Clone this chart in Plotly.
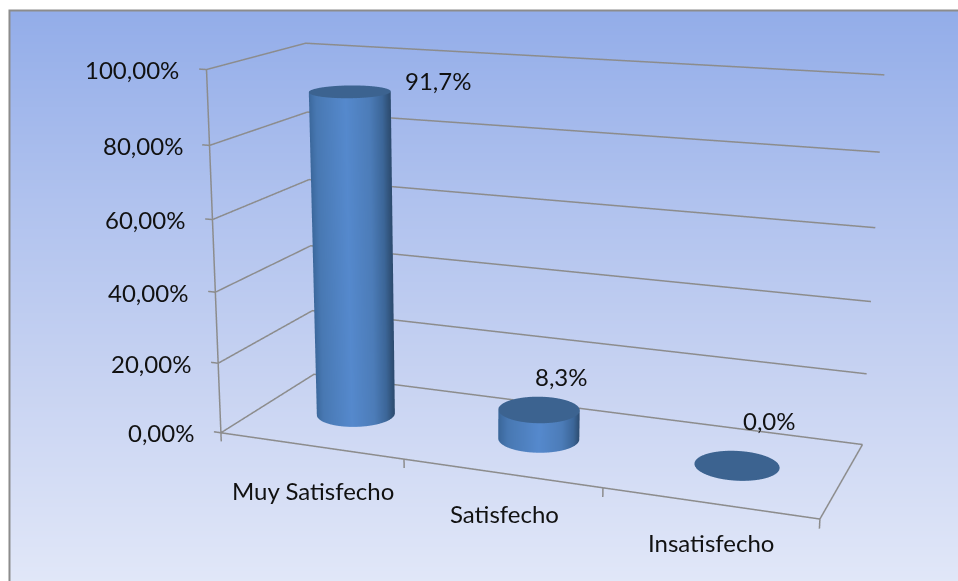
import numpy as np
import plotly.graph_objects as go

categories = ["Muy Satisfecho", "Satisfecho", "Insatisfecho"]
values = [91.7, 8.3, 0.0]
value_labels = ["91,7%", "8,3%", "0,0%"]
z_ticks = [0, 20, 40, 60, 80, 100]
z_tick_labels = ["0,00%", "20,00%", "40,00%", "60,00%", "80,00%", "100,00%"]

W, H = 958, 581
k = 2.5803      # figure enlarged and centred on the window: narrows Plotly's fixed 45 degree view to the reference's weak perspective
FW, FH = k*W, k*H
ox, oy = (FW-W)/2, (FH-H)/2
XR, YR, ZR = (-0.06, 3.02), (-0.02, 1.02), (-3.0, 102.0)
EYE = dict(x=1.54356, y=-4.2409, z=1.15309)
CENTER = dict(x=-0.12784, y=-0.0784, z=-0.06951)
UP = dict(x=0.0068, y=0.0005, z=1)
ASPECT = dict(x=1.64569, y=0.56763, z=1.019417)
RX, RY = 0.2, 0.196
GREY = "#8c8c8c"
TEXT = dict(family="Lato", size=24, color="#111111")
CAP = "#3c6390"

fig = go.Figure()

fig.add_trace(go.Heatmap(z=[[0,0],[1,1],[2,2],[3,3]], x=[0,1], y=[0,1,2,3], zsmooth="best", showscale=False, hoverinfo="skip",
    zmin=0, zmax=3, colorscale=[[0,"#93ade9"],[1/3,"#b0c2ee"],[2/3,"#c9d4f2"],[1,"#e1e7f8"]]))

def ln(xs, ys, zs):
    fig.add_trace(go.Scatter3d(x=xs, y=ys, z=zs, mode="lines", line=dict(color=GREY, width=3), hoverinfo="skip", showlegend=False))

for z in z_ticks:
    ln([-0.04,0,0,3],[0,0,1,1],[z,z,z,z])
ln([0,0],[0,0],[0,100])
ln([0,3,3],[0,0,1],[0,0,0])
for i in range(len(categories)+1):
    ln([i,i],[0,0],[0,-2.5])

LIGHT = dict(ambient=1, diffuse=0, specular=0, roughness=1, fresnel=0)
SIDE = [[0,"#3a6699"],[0.12,"#4878b2"],[0.5,"#5589cd"],[0.78,"#4c7cb8"],[0.92,"#3c6698"],[1,"#2d4c70"]]
theta = np.linspace(0, 2*np.pi, 121)
phi = np.arctan2(EYE["y"], EYE["x"]) + np.pi/2
for i, v in enumerate(values):
    cx, cy = i+0.5, 0.5
    X = cx + RX*np.cos(theta); Y = cy + RY*np.sin(theta)
    t = 0.5 + 0.5*np.cos(theta-phi)
    if v > 0:
        fig.add_trace(go.Surface(x=np.vstack([X,X]), y=np.vstack([Y,Y]), z=np.vstack([0*X, 0*X+v]),
            surfacecolor=np.vstack([t,t]), cmin=0, cmax=1, colorscale=SIDE, showscale=False, lighting=LIGHT, hoverinfo="skip"))
    Xc = np.vstack([cx+0*X, X]); Yc = np.vstack([cy+0*Y, Y]); Zc = np.full_like(Xc, v)
    fig.add_trace(go.Surface(x=Xc, y=Yc, z=Zc, surfacecolor=0*Zc, cmin=0, cmax=1, colorscale=[[0,CAP],[1,CAP]],
        showscale=False, lighting=LIGHT, hoverinfo="skip"))

ann = []
for z, s in zip(z_ticks, z_tick_labels):
    ann.append(dict(x=0, y=0, z=z, text=s, showarrow=False, xanchor="right", yanchor="middle", xshift=-25, font=TEXT))
cat_shift = [(2,-45), (3,-40), (2,-39)]
for i, c in enumerate(categories):
    ann.append(dict(x=i+0.5, y=0, z=0, text=c, showarrow=False, xanchor="center", yanchor="middle",
                    xshift=cat_shift[i][0], yshift=cat_shift[i][1], font=TEXT))
val_shift = [(88,11), (22,33), (33,45)]
for i, (v, s) in enumerate(zip(values, value_labels)):
    ann.append(dict(x=i+0.5, y=0.5, z=v, text=s, showarrow=False, xanchor="center", yanchor="middle",
                    xshift=val_shift[i][0], yshift=val_shift[i][1], font=TEXT))

axis = dict(showgrid=False, showticklabels=False, showline=False, zeroline=False, showbackground=False, title="", showspikes=False)
shapes=[dict(type="rect", xref="paper", yref="paper", x0=(ox+9.5)/FW, x1=(ox+W+20)/FW, y0=1-(oy+H+20)/FH, y1=1-(oy+10.5)/FH,
             line=dict(color=GREY, width=2), fillcolor="rgba(0,0,0,0)", layer="above")]
fig.update_layout(width=FW, height=FH, margin=dict(l=0,r=0,t=0,b=0), paper_bgcolor="white", plot_bgcolor="white",
    xaxis=dict(visible=False, range=[0,1], domain=[(ox+10)/FW, (ox+W)/FW]),
    yaxis=dict(visible=False, range=[3,0], domain=[1-(oy+H)/FH, 1-(oy+11)/FH]),
    shapes=shapes,
    scene=dict(domain=dict(x=[0,1],y=[0,1]), bgcolor="rgba(0,0,0,0)",
        xaxis=dict(axis, range=list(XR)), yaxis=dict(axis, range=list(YR)), zaxis=dict(axis, range=list(ZR)),
        aspectmode="manual", aspectratio=ASPECT,
        camera=dict(eye=EYE, center=CENTER, up=UP), annotations=ann))
fig.write_html("out.html", config=dict(displayModeBar=False),
    post_script=f"document.body.style.margin='0';document.body.style.overflow='hidden';var g=document.getElementById('{{plot_id}}');g.style.position='absolute';g.style.left='{-ox}px';g.style.top='{-oy}px';")
